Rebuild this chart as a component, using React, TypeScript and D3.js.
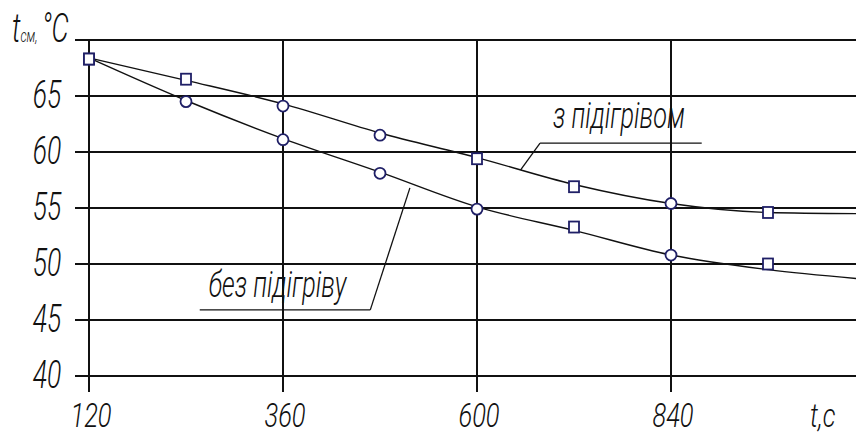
import React from "react";
import * as d3 from "d3";

// measured points (time, s)
const times = [120, 240, 360, 480, 600, 720, 840, 960];
const withHeating = [68.3, 66.5, 64.1, 61.5, 59.4, 56.9, 55.4, 54.6];
const withoutHeating = [68.3, 64.5, 61.1, 58.1, 54.9, 53.3, 50.8, 50.0];
const withMarkers = ["square", "square", "circle", "circle", "square", "square", "circle", "square"];
const withoutMarkers = ["square", "circle", "circle", "circle", "circle", "square", "circle", "square"];

// smoothed trend curves
const fitTimes = [120, 240, 360, 480, 600, 720, 840, 960, 1070];
const withFit = [68.4, 66.4, 64.3, 61.7, 59.5, 57.1, 55.4, 54.6, 54.5];
const withoutFit = [68.4, 64.6, 61.2, 58.2, 55.1, 53.0, 50.8, 49.5, 48.7];

// axis ticks
const xTicks = [120, 360, 600, 840];
const yGrid = [40, 45, 50, 55, 60, 65, 70];
const yLabels = [40, 45, 50, 55, 60, 65];

// callouts, in data units: text start, underline, leader (from underline end to curve)
const withLabel = { text: "з підігрівом", tx: 694, ty: 62.1, ux1: 678, ux2: 878, uy: 60.8, fx: 678, lx: 654, ly: 58.4 };
const withoutLabel = { text: "без підігріву", tx: 268, ty: 47.05, ux1: 257, ux2: 468, uy: 45.9, fx: 468, lx: 517, ly: 56.8 };

const W = 856;
const H = 437;
const FONT = "Roboto, 'DejaVu Sans', sans-serif";
const ink = "#111";
const markerColor = "#1f1f66";

const x = d3.scaleLinear().domain([120, 840]).range([89, 671]);
const y = d3.scaleLinear().domain([40, 70]).range([376, 40]);

const Narrow = ({ px, py, anchor = "start", size = 39, sx = 0.68, children }: any) => (
  <g transform={`translate(${px},${py}) scale(${sx},1)`}>
    <text
      textAnchor={anchor}
      fontFamily={FONT}
      fontStyle="italic"
      fontWeight={300}
      fontSize={size}
      fill={ink}
    >
      {children}
    </text>
  </g>
);

const Marker = ({ cx, cy, shape }: any) =>
  shape === "circle" ? (
    <circle cx={cx} cy={cy} r={5.5} fill="white" stroke={markerColor} strokeWidth={1.8} />
  ) : (
    <rect x={cx - 5} y={cy - 5.5} width={10} height={11} fill="white" stroke={markerColor} strokeWidth={1.8} />
  );

const Callout = ({ c }: any) => (
  <g>
    <Narrow px={x(c.tx)} py={y(c.ty)} size={36} sx={0.7}>
      {c.text}
    </Narrow>
    <line x1={x(c.ux1)} x2={x(c.ux2)} y1={y(c.uy)} y2={y(c.uy)} stroke={ink} strokeWidth={1.3} />
    <line x1={x(c.fx)} x2={x(c.lx)} y1={y(c.uy)} y2={y(c.ly)} stroke={ink} strokeWidth={1.3} />
  </g>
);

export default function App() {
  const line = d3
    .line<number>()
    .x((d, i) => x(fitTimes[i]))
    .y((d) => y(d))
    .curve(d3.curveMonotoneX);

  return (
    <svg
      width={W}
      height={H}
      style={{ position: "absolute", left: 0, top: 0, background: "white" }}
    >
      <defs>
        <clipPath id="plot">
          <rect x={0} y={0} width={W} height={H} />
        </clipPath>
      </defs>

      {/* grid */}
      {yGrid.map((v) => (
        <line key={"h" + v} x1={75} x2={W} y1={y(v)} y2={y(v)} stroke={ink} strokeWidth={2} />
      ))}
      {xTicks.map((t) => (
        <line key={"v" + t} x1={x(t)} x2={x(t)} y1={y(70)} y2={y(40) + 16} stroke={ink} strokeWidth={2} />
      ))}

      {/* y labels */}
      {yLabels.map((v) => (
        <Narrow key={"yl" + v} px={47} py={y(v) + 12} anchor="middle">
          {v}
        </Narrow>
      ))}
      {/* x labels */}
      {xTicks.map((t) => (
        <Narrow key={"xl" + t} px={x(t) + 2} py={427} anchor="middle" size={34} sx={0.75}>
          {t}
        </Narrow>
      ))}
      <Narrow px={810} py={427} size={34} sx={0.75}>t,c</Narrow>

      {/* y title */}
      <g transform="translate(12,42) scale(0.68,1)">
        <text fontFamily={FONT} fontStyle="italic" fontWeight={300} fontSize={40} fill={ink}>
          t<tspan fontSize={18}>см,</tspan>
          <tspan dx={6}>°C</tspan>
        </text>
      </g>

      {/* trend curves */}
      <g clipPath="url(#plot)">
        <path d={line(withFit) || ""} fill="none" stroke={ink} strokeWidth={1.4} />
        <path d={line(withoutFit) || ""} fill="none" stroke={ink} strokeWidth={1.4} />
      </g>

      {/* measured points */}
      {times.map((t, i) => (
        <Marker key={"w" + t} cx={x(t)} cy={y(withHeating[i])} shape={withMarkers[i]} />
      ))}
      {times.map((t, i) => (
        <Marker key={"wo" + t} cx={x(t)} cy={y(withoutHeating[i])} shape={withoutMarkers[i]} />
      ))}

      <Callout c={withLabel} />
      <Callout c={withoutLabel} />
    </svg>
  );
}
